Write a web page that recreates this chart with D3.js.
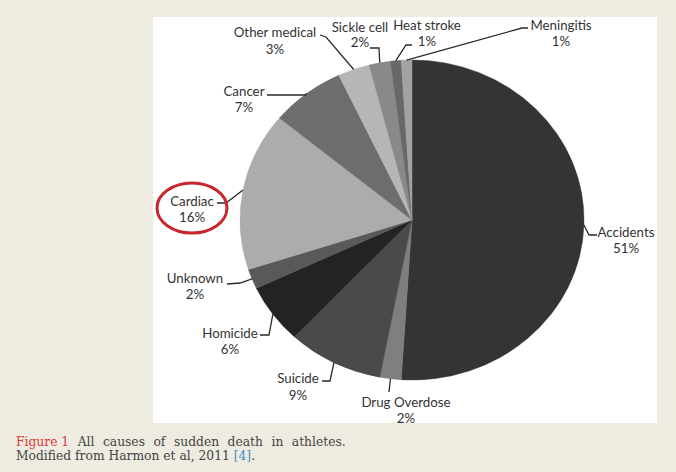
<!DOCTYPE html>
<html>
<head>
<meta charset="utf-8">
<script src="https://cdn.jsdelivr.net/npm/d3@7"></script>
<style>
  html, body { margin: 0; padding: 0; background: #eeebe1; }
  svg { display: block; }
</style>
</head>
<body>
<svg id="chart" width="676" height="472"></svg>
<script>
// ---- data ----
const categories = ["Accidents", "Drug Overdose", "Suicide", "Homicide", "Unknown", "Cardiac",
                    "Cancer", "Other medical", "Sickle cell", "Heat stroke", "Meningitis"];
const values = [51, 2, 9, 6, 2, 16, 7, 3, 2, 1, 1];
const pctLabels = ["51%", "2%", "9%", "6%", "2%", "16%", "7%", "3%", "2%", "1%", "1%"];

// ---- styles ----
const sliceColors = ["#343434", "#7f7f7f", "#4a4a4a", "#232323", "#595959", "#acacac",
                     "#6d6d6d", "#b6b6b6", "#898989", "#686868", "#a2a2a2"];

// ---- layout (label placement: text centre x, name y, pct y, leader start, elbow) ----
const labelLayout = [
  {x: 626, y1: 232, y2: 248, s: [597, 235], e: [589, 235]},
  {x: 406, y1: 402, y2: 418, s: [389, 392], e: [389, 392]},
  {x: 298, y1: 378, y2: 395, s: [322, 381], e: [330, 381]},
  {x: 230, y1: 333, y2: 349, s: [260, 335], e: [269, 335]},
  {x: 195, y1: 278, y2: 294, s: [227, 284], e: [240, 283]},
  {x: 192, y1: 201, y2: 217, s: [217, 203], e: [226, 203]},
  {x: 244, y1: 91,  y2: 107, s: [267, 95],  e: [305, 95]},
  {x: 275, y1: 32,  y2: 49,  s: [320, 35],  e: [326, 37]},
  {x: 360, y1: 27,  y2: 42,  s: [370, 48],  e: [379, 48]},
  {x: 427, y1: 25,  y2: 41,  s: [412, 45],  e: [406, 45]},
  {x: 561, y1: 25,  y2: 41,  s: [528, 28],  e: [522, 28]}
];

const svg = d3.select("#chart");

// white panel
svg.append("rect").attr("x", 153).attr("y", 17).attr("width", 504).attr("height", 406).attr("fill", "#ffffff");

const cx = 412, cy = 220, r = 160, sx = 172 / 160;

const pie = d3.pie().sort(null).value(d => d)(values);
const arc = d3.arc().innerRadius(0).outerRadius(r);

const g = svg.append("g").attr("transform", `translate(${cx},${cy}) scale(${sx},1)`);
g.selectAll("path").data(pie).join("path")
  .attr("d", arc)
  .attr("fill", (d, i) => sliceColors[i])
  .attr("stroke", (d, i) => sliceColors[i])
  .attr("stroke-width", 0.5);

// leader lines
const edgePoint = d => {
  const a = (d.startAngle + d.endAngle) / 2;
  return [cx + sx * r * Math.sin(a), cy - r * Math.cos(a)];
};
const line = d3.line();
svg.append("g").selectAll("path").data(pie).join("path")
  .attr("d", (d, i) => line([labelLayout[i].s, labelLayout[i].e, edgePoint(d)]))
  .attr("fill", "none")
  .attr("stroke", "#2a2a2a")
  .attr("stroke-width", 1.3);

// labels
const lab = svg.append("g")
  .attr("font-family", "Lato, 'Open Sans', sans-serif")
  .attr("font-size", 13.3)
  .attr("fill", "#333")
  .attr("text-anchor", "middle");
categories.forEach((c, i) => {
  const L = labelLayout[i];
  lab.append("text").attr("x", L.x).attr("y", L.y1).attr("dy", "0.35em").text(c);
  lab.append("text").attr("x", L.x).attr("y", L.y2).attr("dy", "0.35em").text(pctLabels[i]);
});

// red highlight around Cardiac
svg.append("ellipse").attr("cx", 192).attr("cy", 208).attr("rx", 35).attr("ry", 25)
  .attr("fill", "none").attr("stroke", "#c8282d").attr("stroke-width", 3);

// caption
const cap = svg.append("g").attr("font-family", "'DejaVu Serif', serif").attr("font-size", 12.3).attr("fill", "#444");
const t1 = cap.append("text").attr("x", 16).attr("y", 446);
t1.append("tspan").attr("fill", "#e0393e").text("Figure 1");
t1.append("tspan").attr("word-spacing", 4.6).text(" All causes of sudden death in athletes.");
const t2 = cap.append("text").attr("x", 16).attr("y", 460);
t2.append("tspan").text("Modified from Harmon et al, 2011 ");
t2.append("tspan").attr("fill", "#3d8fc4").text("[4]");
t2.append("tspan").text(".");
</script>
</body>
</html>
